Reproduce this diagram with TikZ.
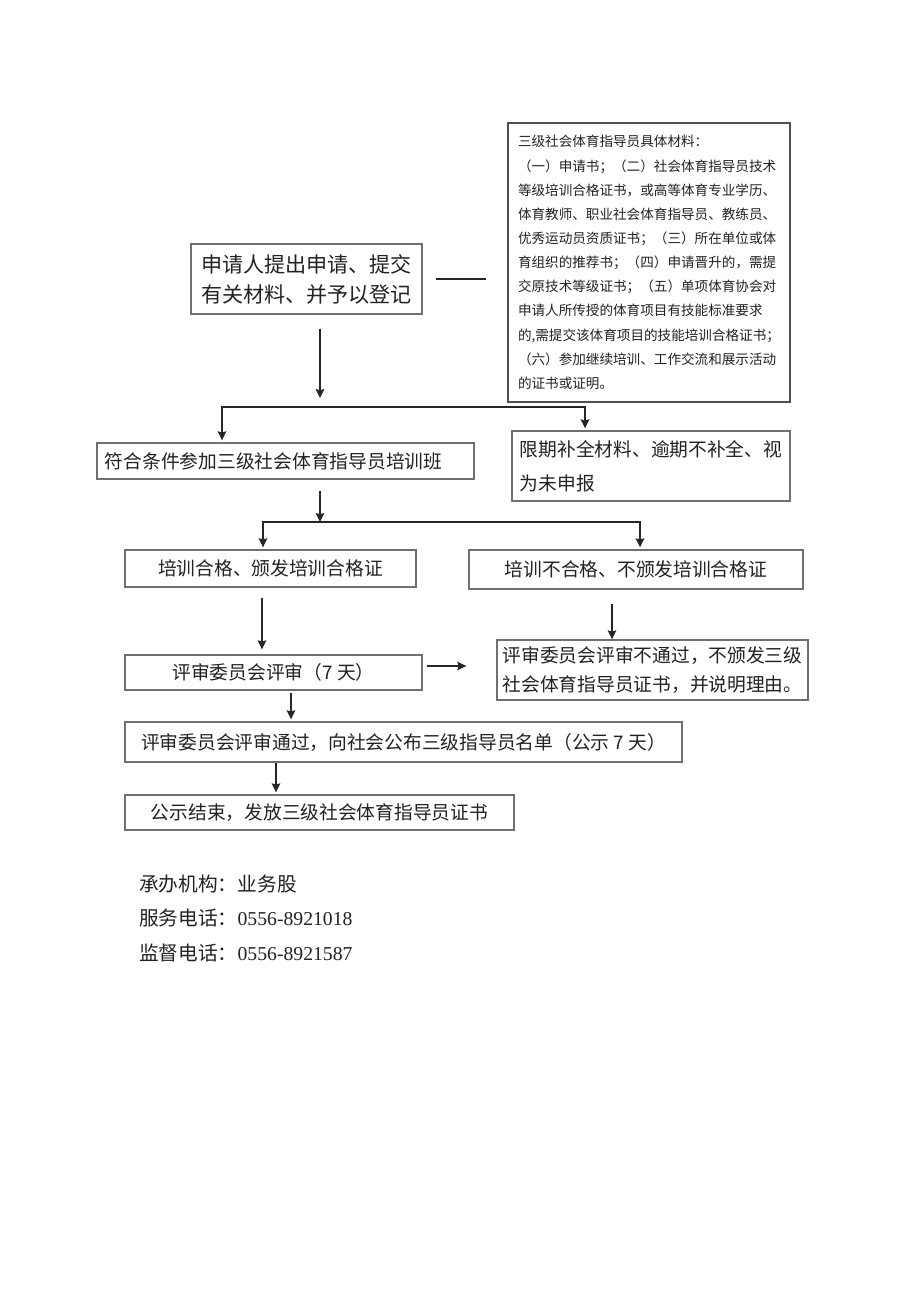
\documentclass[tikz,border=0pt]{standalone}
\usepackage{fontspec}
\setmainfont{Liberation Serif}
\newfontfamily\cjk{Noto Sans CJK SC}
\usetikzlibrary{arrows.meta}
\definecolor{bgray}{HTML}{707070}
\definecolor{dgray}{HTML}{505050}
\definecolor{txt}{HTML}{222222}

\begin{document}
\begin{tikzpicture}[x=0.03cm,y=-0.03cm,
  bx/.style 2 args={draw=bgray,line width=1.2pt,inner sep=0pt,text=txt,
    minimum width=#1*0.03cm,minimum height=#2*0.03cm,
    font=\cjk\fontsize{16}{27}\selectfont},
  ln/.style={line width=1.1pt,draw=black!85},
  arr/.style={ln,-{Stealth[length=0.27cm,width=0.26cm,inset=0.04cm]}}]
\useasboundingbox (0,0) rectangle (920,1301);
\fill[white] (0,0) rectangle (920,1301);

% boxes
\node[bx={282}{279},draw=dgray,align=left,font=\cjk\fontsize{11.6}{20.6}\selectfont] (mat) at (649,262.5)
{三级社会体育指导员具体材料：\\
（一）申请书；（二）社会体育指导员技术\\
等级培训合格证书，或高等体育专业学历、\\
体育教师、职业社会体育指导员、教练员、\\
优秀运动员资质证书；（三）所在单位或体\\
育组织的推荐书；（四）申请晋升的，需提\\
交原技术等级证书；（五）单项体育协会对\\
申请人所传授的体育项目有技能标准要求\\
的,需提交该体育项目的技能培训合格证书；\\
（六）参加继续培训、工作交流和展示活动\\
的证书或证明。};
\node[bx={231}{70},align=center,font=\cjk\fontsize{18}{25.6}\selectfont] (apply) at (306.5,279)
{申请人提出申请、提交\\有关材料、并予以登记};
\node[bx={377}{36},text width=10.83cm,align=left] (train) at (285.5,461) {符合条件参加三级社会体育指导员培训班};
\node[bx={278}{70},align=left,font=\cjk\fontsize{16}{29}\selectfont] (fill) at (651,466)
{限期补全材料、逾期不补全、视\\为未申报};
\node[bx={291}{37}] (pass) at (270.5,568.5) {培训合格、颁发培训合格证};
\node[bx={334}{39}] (fail) at (636,569.5) {培训不合格、不颁发培训合格证};
\node[bx={297}{35}] (rev) at (273.5,672.5) {评审委员会评审（7 天）};
\node[bx={311}{60},align=left,font=\cjk\fontsize{16}{25}\selectfont] (rej) at (652.5,670)
{评审委员会评审不通过，不颁发三级\\社会体育指导员证书，并说明理由。};
\node[bx={557}{40}] (pub) at (403.5,742) {评审委员会评审通过，向社会公布三级指导员名单（公示 7 天）};
\node[bx={389}{35}] (cert) at (319.5,812.5) {公示结束，发放三级社会体育指导员证书};

% contact lines
\tikzset{info/.style={anchor=west,inner sep=0pt,text=txt,font=\cjk\fontsize{16.8}{20}\selectfont}}
\node[info] (org) at (139,884) {承办机构：业务股};
\node[info] (tel) at (139,918) {服务电话：{\rmfamily 0556-8921018}};
\node[info] (sup) at (139,953) {监督电话：{\rmfamily 0556-8921587}};

% connectors
\coordinate (s1) at (320,407);
\coordinate (l1) at (222,407);
\coordinate (r1) at (585,407);
\coordinate (s2) at (320,522);
\coordinate (l2) at (263,522);
\coordinate (r2) at (640,522);
\coordinate (a3) at (262,0);
\coordinate (a4) at (612,0);
\coordinate (a5) at (0,666);
\coordinate (a6) at (291,0);
\coordinate (a7) at (276,0);

\draw[ln,shorten <=0.39cm,shorten >=0.63cm] (apply.east) -- (apply.east -| mat.west);
\draw[arr,shorten <=0.42cm,shorten >=0.27cm] (apply.south -| s1) -- (s1);
\draw[arr,shorten >=0.06cm] (s1) -- (l1) -- (train.north -| l1);
\draw[arr,shorten >=0.06cm] (s1) -- (r1) -- (fill.north -| r1);
\draw[arr,shorten <=0.33cm] (train.south -| s2) -- (s2);
\draw[arr,shorten >=0.06cm] (s2) -- (l2) -- (pass.north -| l2);
\draw[arr,shorten >=0.06cm] (s2) -- (r2) -- (fail.north -| r2);
\draw[arr,shorten <=0.3cm,shorten >=0.15cm] (pass.south -| a3) -- (rev.north -| a3);
\draw[arr,shorten <=0.42cm] (fail.south -| a4) -- (rej.north -| a4);
\draw[arr,shorten <=0.12cm,shorten >=0.9cm] (rev.east |- a5) -- (rej.west |- a5);
\draw[arr,shorten <=0.06cm,shorten >=0.06cm] (rev.south -| a6) -- (pub.north -| a6);
\draw[arr,shorten >=0.06cm] (pub.south -| a7) -- (cert.north -| a7);
\end{tikzpicture}
\end{document}
